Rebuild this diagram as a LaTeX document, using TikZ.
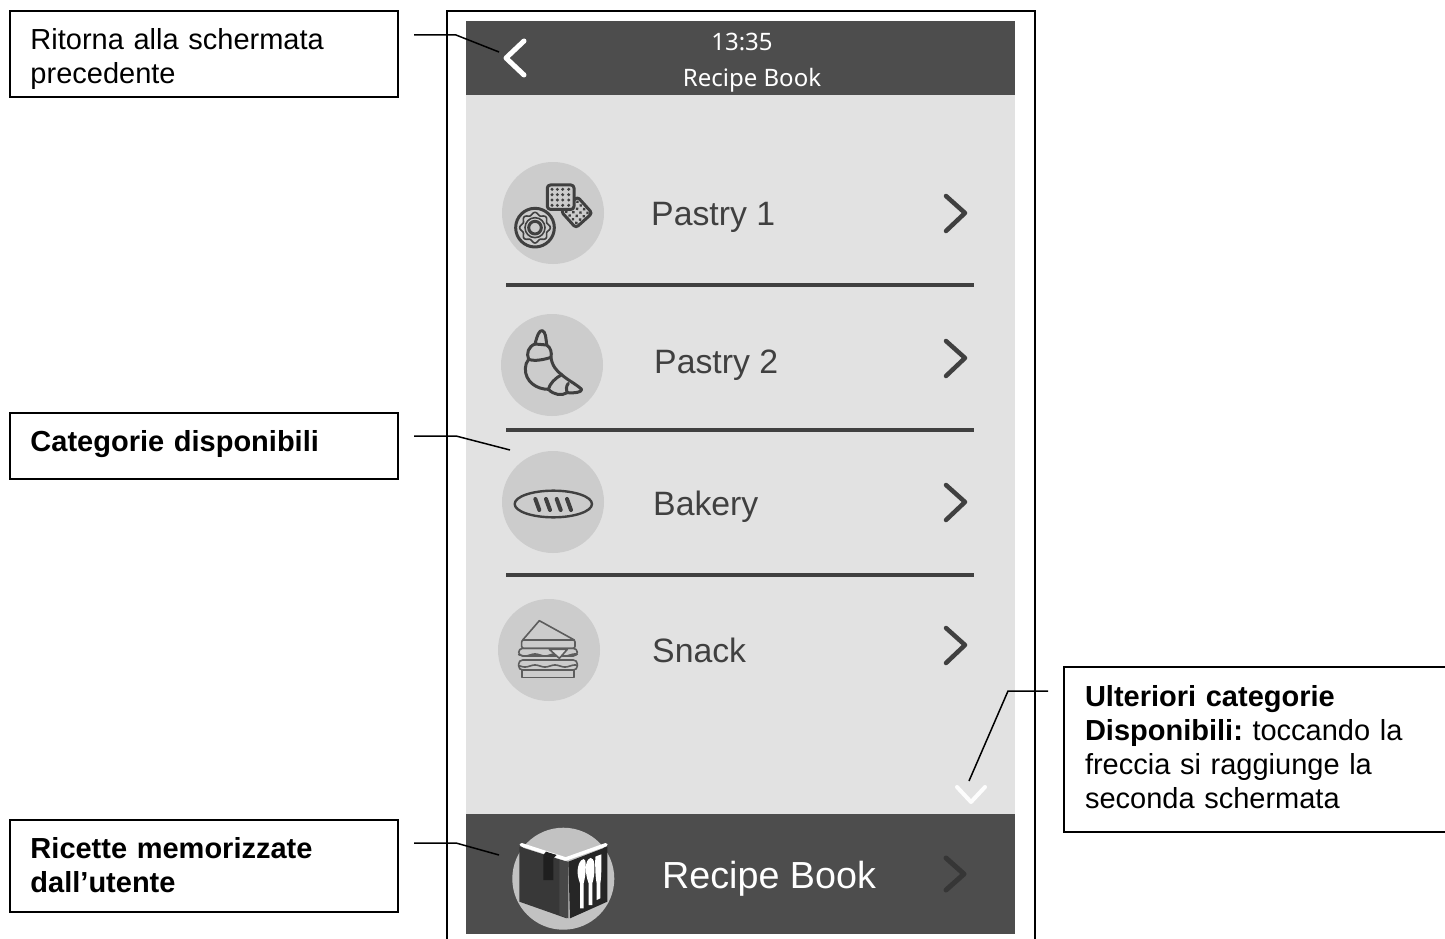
\documentclass[tikz,border=0pt]{standalone}
\usepackage{fontspec}
\setmainfont{Liberation Sans}
\newfontfamily\uifont{Noto Sans}
\definecolor{scrdark}{HTML}{4D4D4D}
\definecolor{scrbody}{HTML}{E2E2E2}
\definecolor{circ}{HTML}{CCCCCC}
\definecolor{ink}{HTML}{404040}
\tikzset{
  callout/.style={draw=black,line width=2pt,anchor=north west,align=left,outer sep=0pt,inner xsep=21pt,inner ysep=0pt,
    font=\frenchspacing\fontsize{29}{34}\selectfont},
  leader/.style={draw=black,line width=1.5pt},
  rowlabel/.style={anchor=base west,inner sep=0pt,text=ink,font=\fontsize{33.8}{38}\selectfont},
  uitext/.style={inner sep=0pt,text=white,font=\uifont\fontsize{24}{28}\selectfont},
  chev/.style={draw=ink,line width=4.5pt,line cap=round,line join=round},
  sep/.style={draw=ink,line width=4pt},
  disc/.style={circle,fill=circ,inner sep=0pt,minimum size=102pt},
  icon/.style={draw=ink,line width=3pt,line join=round,line cap=round},
  iconthin/.style={draw=ink!85!white,line width=1.6pt,line join=round,line cap=round},
}
\begin{document}
\begin{tikzpicture}[x=1pt,y=-1pt]
\clip (0,0) rectangle (1445,939);
\fill[white] (0,0) rectangle (1445,939);
% screen
\fill[scrbody] (466,95) rectangle (1015,814);
\fill[scrdark] (466,21) rectangle (1015,95);
\fill[scrdark] (466,814) rectangle (1015,934);
% frame
\draw[black,line width=2pt] (446.5,939) -- (446.5,11) -- (1035,11) -- (1035,939);
% header
\draw[white,line width=5pt,line cap=round,line join=round] (524,41) -- (506,58) -- (524,75);
\node[uitext] (clock) at (742,42) {13:35};
\node[uitext] (title) at (752,80) {Recipe Book};
% separators
\draw[sep] (506,285) -- (974,285);
\draw[sep] (506,430) -- (974,430);
\draw[sep] (506,575) -- (974,575);
% discs
\node[disc] (d1) at (553,213) {};
\node[disc] (d2) at (552,365) {};
\node[disc] (d3) at (553,502) {};
\node[disc] (d4) at (549,650) {};
% labels
\node[rowlabel] (l1) at (651,225) {Pastry 1};
\node[rowlabel] (l2) at (654,373) {Pastry 2};
\node[rowlabel] (l3) at (653,515) {Bakery};
\node[rowlabel] (l4) at (652,662) {Snack};
% chevrons
\draw[chev] (946,196) -- (965,213) -- (946,231);
\draw[chev] (946,341) -- (965,358) -- (946,376);
\draw[chev] (946,485) -- (965,502) -- (946,520);
\draw[chev] (946,628) -- (965,645) -- (946,663);
\draw[white,line width=4pt,line cap=round,line join=round,opacity=.95] (957,787) -- (971,802) -- (985,787);
% donut and crackers
\begin{scope}[shift={(400,0)},scale=1/3]
  \begin{scope}[shift={(530,637)},rotate=42]
    \draw[icon,fill=circ,rounded corners=3pt] (-33,-33) rectangle (33,33);
    \foreach \x in {-22,-7,8,23} \foreach \y in {-22,-7,8,23} \fill[ink] (\x,\y) circle (5);
  \end{scope}
  \draw[icon,fill=circ,rounded corners=3pt] (442,555) rectangle (522,628);
  \foreach \x in {456,472,488,506} \foreach \y in {568,584,600,616} \fill[ink] (\x,\y) circle (5);
  \draw[icon,fill=circ] (405,683) circle (58);
  \draw[icon] (405,683) circle (19);
  \draw[iconthin,draw=ink] (405,683) circle (30);
  \draw[iconthin,draw=ink,domain=0:360,samples=73,smooth] plot ({405+(42+4*cos(8*\x))*cos(\x)},{683+(42+4*cos(8*\x))*sin(\x)});
\end{scope}
% croissant
\begin{scope}[shift={(480,300)},scale=1/3]
  \draw[icon] (165,132) .. controls (172,105) and (178,90) .. (187,92) .. controls (197,95) and (198,115) .. (200,135)
    .. controls (212,142) and (216,158) .. (213,172) .. controls (216,198) and (232,215) .. (245,224)
    .. controls (262,240) and (285,250) .. (305,268) .. controls (305,277) and (285,280) .. (262,278)
    .. controls (245,288) and (222,285) .. (205,268) .. controls (170,268) and (135,245) .. (136,205)
    .. controls (136,195) and (140,185) .. (146,178) .. controls (138,160) and (145,140) .. (165,132);
  \draw[icon] (165,132) -- (200,135);
  \draw[icon] (146,178) .. controls (165,185) and (195,178) .. (213,172);
  \draw[icon] (245,224) .. controls (225,235) and (210,250) .. (205,268);
  \draw[icon] (265,250) .. controls (258,258) and (258,270) .. (262,278);
  % bread
  \draw[icon,line width=2.4pt] (220,612) ellipse (116 and 40);
  \foreach \x in {172,204,236,267}
    \draw[ink,line width=4pt,line cap=round] (\x-6,597) -- (\x+6,630);
\end{scope}
% sandwich
\begin{scope}[shift={(400,590)},scale=1/3]
  \draw[iconthin] (418,92) -- (523,150) -- (368,150) -- cycle;
  \draw[iconthin,rounded corners=2pt] (365,150) rectangle (525,175);
  \draw[iconthin,rounded corners=4pt] (356,175) rectangle (532,198);
  \draw[iconthin,rounded corners=4pt] (356,210) rectangle (532,240);
  \draw[iconthin] (366,240) rectangle (522,263);
  \foreach \y in {195,228}
    \draw[iconthin,domain=356:532,samples=45,smooth] plot (\x,{\y+3*sin(6*\x)});
  \draw[iconthin,fill=circ!70!white] (448,178) -- (502,178) -- (478,205) -- cycle;
\end{scope}
% bottom bar
\node[rowlabel,text=white,font=\fontsize{37.7}{42}\selectfont] (rb) at (662,888) {Recipe Book};
\draw[draw=ink!85!black,line width=5pt,line cap=round,line join=round] (946,858) -- (964,874) -- (946,890);
\node[disc,fill=circ!95!black] (d5) at (563.3,878.7) {};
\begin{scope}[shift={(400,590)},scale=1/3]
  \fill[black!78] (358,770) -- (500,815) -- (500,985) -- (358,935) -- cycle;
  \fill[black!72] (478,810) -- (505,815) -- (505,985) -- (478,975) -- cycle;
  \fill[black!85] (505,815) -- (622,770) -- (622,935) -- (510,985) -- cycle;
  \draw[white,line width=3.5pt,line join=round,line cap=round] (364,764) -- (497,807) -- (618,764);
  \fill[black!88] (430,795) -- (460,805) -- (460,870) -- (430,870) -- cycle;
  \fill[black!88] (438,785) -- (470,795) -- (460,805) -- (430,795) -- cycle;
  \fill[white] (533,840) .. controls (535,812) and (552,800) .. (556,812) .. controls (560,840) and (554,868) .. (551,880) -- (551,955) -- (540,955) -- (540,880) .. controls (535,865) and (532,855) .. (533,840) -- cycle;
  \fill[white] (558,825) .. controls (564,797) and (580,797) .. (583,822) .. controls (585,850) and (580,870) .. (577,880) -- (577,945) -- (566,945) -- (566,880) .. controls (560,865) and (556,845) .. (558,825) -- cycle;
  \fill[white] (586,800) -- (604,793) .. controls (605,840) and (603,870) .. (601,880) -- (601,925) -- (590,930) -- (590,880) .. controls (586,860) and (585,830) .. (586,800) -- cycle;
\end{scope}
% callouts
\node[callout,minimum width=388pt,minimum height=86pt,text width=346pt] (b1) at (9.5,11) {\rule{0pt}{31pt}Ritorna alla schermata\\precedente};
\node[callout,minimum width=388pt,minimum height=66pt,text width=346pt] (b2) at (9.5,413) {\raisebox{10pt}{\textbf{Categorie disponibili}}};
\node[callout,minimum width=388pt,minimum height=92pt,text width=346pt] (b3) at (9.5,820) {\textbf{Ricette memorizzate\\dall’utente}\rule[-2.5pt]{0pt}{1pt}};
\node[callout,minimum width=390pt,minimum height=165pt,text width=348pt] (b4) at (1064,667) {\textbf{Ulteriori categorie\\Disponibili:} toccando la\\freccia si raggiunge la\\seconda schermata\rule[-6pt]{0pt}{1pt}};
% leaders
\coordinate (t1) at (499,52);
\coordinate (t2) at (510,450);
\coordinate (t3) at (499,855);
\coordinate (t4) at (969,781);
\draw[leader] ([xshift=16.5pt,yshift=19pt]b1.east) -- ++(42,0) -- (t1);
\draw[leader] ([xshift=16.5pt,yshift=10pt]b2.east) -- ++(42,0) -- (t2);
\draw[leader] ([xshift=16.5pt,yshift=23pt]b3.east) -- ++(42,0) -- (t3);
\draw[leader] ([xshift=-16pt,yshift=58.5pt]b4.west) -- ++(-40,0) -- (t4);
\end{tikzpicture}
\end{document}
